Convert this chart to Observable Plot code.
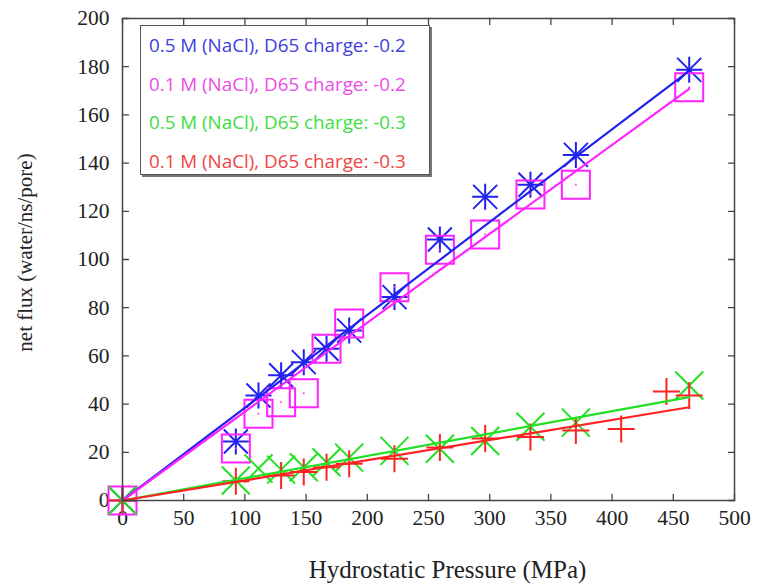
<!DOCTYPE html>
<html>
<head>
<meta charset="utf-8">
<script src="https://cdn.jsdelivr.net/npm/d3@7"></script>
<script src="https://cdn.jsdelivr.net/npm/@observablehq/plot@0.6"></script>
<style>
  html, body { margin: 0; padding: 0; background: #fff; }
  #wrap { position: relative; width: 757px; height: 586px; }
  #legend {
    position: absolute; left: 140px; top: 25px; width: 290px; height: 150px;
    border: 1.5px solid #555; box-shadow: 2px 2px 0 #777; background: #fff;
    font-family: "Open Sans", Lato, sans-serif; font-size: 18.8px;
    box-sizing: border-box; padding: 0 0 0 8px;
  }
  #legend div { height: 38.5px; line-height: 38.5px; white-space: nowrap; }
</style>
</head>
<body>
<div id="wrap"></div>
<script>
// ---- data ----
const seriesNames = [
  "0.5 M (NaCl), D65 charge: -0.2",
  "0.1 M (NaCl), D65 charge: -0.2",
  "0.5 M (NaCl), D65 charge: -0.3",
  "0.1 M (NaCl), D65 charge: -0.3"
];
const seriesColors = ["#2222ee", "#ff22ff", "#22e022", "#ff2222"];
const legendColors = ["#4040dc", "#ea4cea", "#40dd40", "#f04444"];

const pressure = [0, 92.6, 111.1, 129.6, 148.1, 166.7, 185.2, 222.2, 259.3, 296.3, 333.3, 370.4, 463];
const flux05_02 = [0, 24.5, 43.6, 52, 57.4, 63, 70.5, 84.4, 108.3, 126, 131, 143.4, 178.7];
const flux01_02 = [0, 21.6, 36, 40.8, 44.5, 63, 73.4, 88.5, 104, 110.4, 127, 131, 171.5];
const flux05_03 = [0, 8.3, 13.3, 12.8, 13.8, 15.9, 17.8, 20.6, 21.5, 24.7, 30.6, 32.3, 47.7];
const pressureRed = [0, 92.6, 129.6, 148.1, 166.7, 185.2, 222.2, 259.3, 296.3, 333.3, 370.4, 407.4, 444.4, 463];
const flux01_03 = [0, 8, 10.4, 11.8, 13.8, 15.2, 17.3, 22, 25.7, 26.3, 29, 29.7, 45.2, 43.6];

// linear-fit lines: start and end of each line
const fitPressure = [0, 463];
const fitEnd = [178.3, 170.8, 42.9, 38.7];

const xTicks = [0, 50, 100, 150, 200, 250, 300, 350, 400, 450, 500];
const yTicks = [0, 20, 40, 60, 80, 100, 120, 140, 160, 180, 200];

// ---- tables ----
const pts = (xs, ys) => xs.map((x, i) => ({x, y: ys[i]}));
const blue = pts(pressure, flux05_02);
const magenta = pts(pressure, flux01_02);
const green = pts(pressure, flux05_03);
const red = pts(pressureRed, flux01_03);
const fits = fitEnd.map((e, k) => [{x: fitPressure[0], y: 0, k}, {x: fitPressure[1], y: e, k}]).flat();

// ---- custom gnuplot-like symbols (size -> half extent) ----
const half = s => Math.sqrt(s / Math.PI);
const plusSym = {draw(c, s) { const r = half(s); c.moveTo(-r, 0); c.lineTo(r, 0); c.moveTo(0, -r); c.lineTo(0, r); }};
const timesSym = {draw(c, s) { const r = half(s); c.moveTo(-r, -r); c.lineTo(r, r); c.moveTo(-r, r); c.lineTo(r, -r); }};
const squareSym = {draw(c, s) { const r = half(s); c.rect(-r, -r, 2 * r, 2 * r); }};
const tickShape = {draw(c, l) { c.moveTo(0, 0); c.lineTo(0, -l); }};

const serif = "Liberation Serif, DejaVu Serif, serif";
const tickOpts = {length: 6, shape: tickShape, anchor: "start", stroke: "#444", strokeWidth: 1.3};

const chart = Plot.plot({
  width: 757,
  height: 586,
  marginLeft: 122,
  marginRight: 23,
  marginTop: 18,
  marginBottom: 86,
  style: {background: "#fff", color: "#222", fontFamily: serif},
  x: {domain: [0, 500]},
  y: {domain: [0, 200]},
  marks: [
    Plot.axisX({ticks: xTicks, tickSize: 0, tickPadding: 9, fontSize: 21.5, label: null}),
    Plot.axisY({ticks: yTicks, tickSize: 0, tickPadding: 13, fontSize: 21.5, label: null}),
    // inward ticks on all four sides
    Plot.vector(xTicks, {x: d => d, frameAnchor: "bottom", rotate: 0, ...tickOpts}),
    Plot.vector(xTicks, {x: d => d, frameAnchor: "top", rotate: 180, ...tickOpts}),
    Plot.vector(yTicks, {y: d => d, frameAnchor: "left", rotate: 90, ...tickOpts}),
    Plot.vector(yTicks, {y: d => d, frameAnchor: "right", rotate: -90, ...tickOpts}),
    // markers
    Plot.dot(blue, {x: "x", y: "y", symbol: plusSym, r: 13, stroke: seriesColors[0], strokeWidth: 2, fill: "none"}),
    Plot.dot(blue, {x: "x", y: "y", symbol: timesSym, r: 12, stroke: seriesColors[0], strokeWidth: 2, fill: "none"}),
    Plot.dot(magenta, {x: "x", y: "y", symbol: squareSym, r: 14, stroke: seriesColors[1], strokeWidth: 2, fill: "none"}),
    Plot.dot(magenta, {x: "x", y: "y", r: 0.9, fill: seriesColors[1], stroke: "none"}),
    Plot.dot(green, {x: "x", y: "y", symbol: timesSym, r: 14, stroke: seriesColors[2], strokeWidth: 2, fill: "none"}),
    Plot.dot(red, {x: "x", y: "y", symbol: plusSym, r: 13.5, stroke: seriesColors[3], strokeWidth: 2, fill: "none"}),
    // fit lines
    Plot.line(fits, {x: "x", y: "y", z: "k", stroke: d => seriesColors[d.k], strokeWidth: 2.2}),
    // axis titles
    Plot.text(["Hydrostatic Pressure (MPa)"], {frameAnchor: "bottom", dx: 19, dy: 77, fontSize: 25, fill: "#222"}),
    Plot.text(["net flux (water/ns/pore)"], {frameAnchor: "left", textAnchor: "middle", dx: -97, dy: -7, rotate: -90, fontSize: 21, fill: "#222"}),
    Plot.frame({stroke: "#444", strokeWidth: 1.5})
  ]
});

// force serif face on every text of the chart, and tick label size
const svgSel = d3.select(chart);
svgSel.selectAll("text").attr("font-family", serif).style("font-family", serif).style("font-variant", "normal");
svgSel.selectAll('g[aria-label$="tick label"]').attr("font-size", 21.5).style("font-size", "21.5px");
svgSel.selectAll('g[aria-label$="tick label"] text').style("font-size", "21.5px");

const wrap = document.getElementById("wrap");
wrap.appendChild(chart);
const legend = document.createElement("div");
legend.id = "legend";
seriesNames.forEach((name, i) => {
  const row = document.createElement("div");
  row.textContent = name;
  row.style.color = legendColors[i];
  legend.appendChild(row);
});
wrap.appendChild(legend);
</script>
</body>
</html>
